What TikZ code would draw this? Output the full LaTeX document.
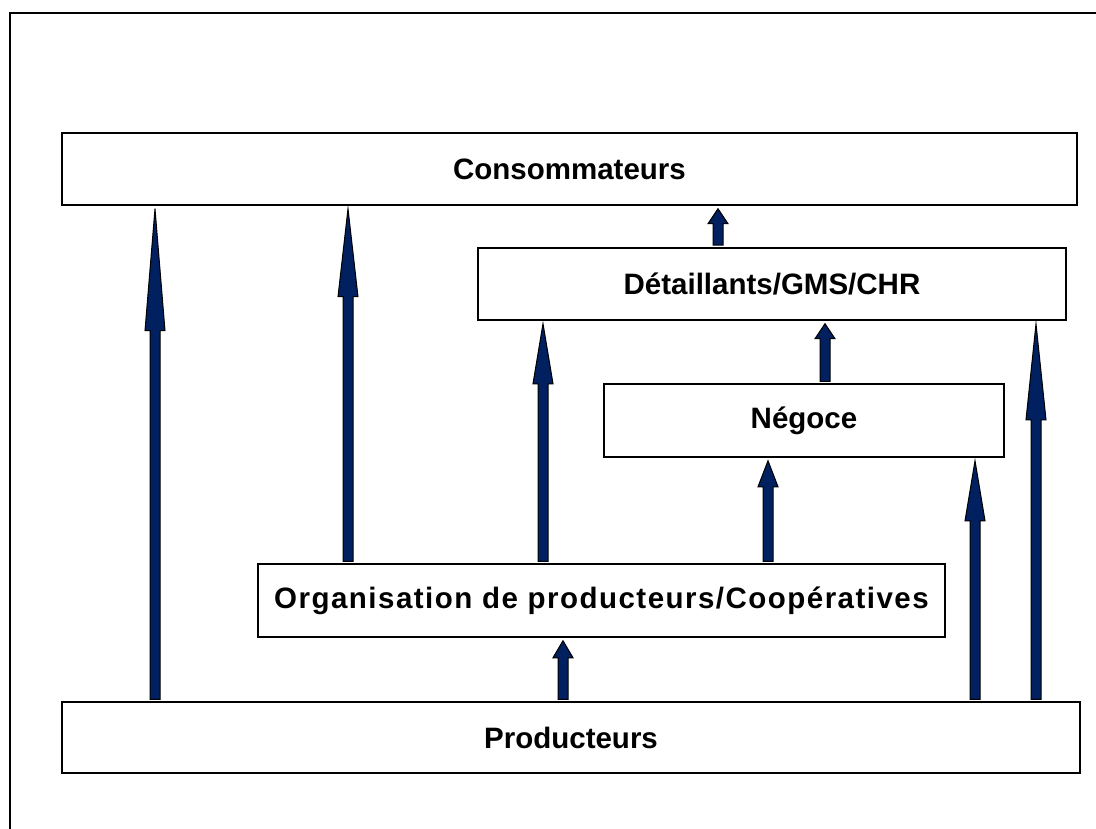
\documentclass[tikz,border=0pt]{standalone}
\usepackage{fontspec}
\setmainfont{Liberation Sans}
\usetikzlibrary{calc}

\definecolor{navy}{RGB}{0,32,96}

\tikzset{
    box/.style={draw, line width=1.5, fill=white, inner sep=0,
        font=\bfseries\fontsize{29.5}{35}\selectfont},
    blockarr/.style={draw=black, line width=1, fill=navy, line join=miter},
}

% #1 x position, #2 from node, #3 to node, #4 head length
\newcommand\blockarrow[4]{%
    \draw[blockarr] let \p1=(#2.north -| #1,0), \p2=(#3.south -| #1,0) in
        (\x1-5,\y1+2) -- (\x1-5,\y2-3-#4) -- (\x1-10,\y2-3-#4) -- (\x1,\y2-3)
        -- (\x1+10,\y2-3-#4) -- (\x1+5,\y2-3-#4) -- (\x1+5,\y1+2) -- cycle;}

\begin{document}
\begin{tikzpicture}[x=1pt,y=-1pt]
    \useasboundingbox (0,0) rectangle (1096,829);
    \draw[line width=2.5] (10,829) |- (1096,13);

    \node[box, minimum width=1015, minimum height=72] (cons) at (569.5,169) {Consommateurs};
    \node[box, minimum width=588, minimum height=72] (det) at (772,284) {Détaillants/GMS/CHR};
    \node[box, minimum width=400, minimum height=73] (neg) at (804,420.5) {Négoce};
    \node[box, minimum width=687, minimum height=73] (org) at (601.5,600.5)
        {\addfontfeatures{LetterSpace=5}Organisation de producteurs/Coopératives};
    \node[box, minimum width=1018, minimum height=71] (prod) at (571,737.5) {Producteurs};

    \blockarrow{155}{prod}{cons}{122}
    \blockarrow{348}{org}{cons}{88}
    \blockarrow{543}{org}{det}{60}
    \blockarrow{768}{org}{neg}{26}
    \blockarrow{563}{prod}{org}{17}
    \blockarrow{975}{prod}{neg}{60}
    \blockarrow{1036}{prod}{det}{96}
    \blockarrow{825}{neg}{det}{15}
    \blockarrow{718}{det}{cons}{15}
\end{tikzpicture}
\end{document}
